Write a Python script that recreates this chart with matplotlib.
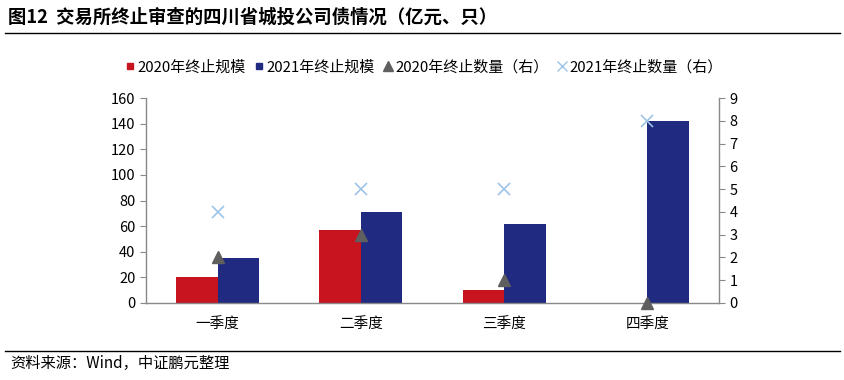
import numpy as np
import matplotlib.pyplot as plt
from matplotlib.lines import Line2D

plt.rcParams['font.family'] = ['Noto Sans CJK SC', 'DejaVu Sans']

quarters = ['一季度', '二季度', '三季度', '四季度']
scale_2020 = [20, 57, 10, 0]
scale_2021 = [35, 71, 62, 142]
count_2020 = [2, 3, 1, 0]
count_2021 = [4, 5, 5, 8]

red = '#C8141E'
navy = '#1F2A80'
gray = '#5F5F5F'
lightblue = '#9DC3E6'
axcol = '#898989'

fig = plt.figure(figsize=(8.45, 3.8), dpi=100)
ax = fig.add_axes([146 / 845, 1 - 303 / 380, (719 - 146) / 845, (303 - 98) / 380])
ax2 = ax.twinx()

x = np.arange(len(quarters))
w = 0.29
ax.bar(x - w / 2, scale_2020, w, color=red, label='2020年终止规模')
ax.bar(x + w / 2, scale_2021, w, color=navy, label='2021年终止规模')
ax.set_xlim(-0.5, 3.5)
ax.set_ylim(0, 160)
ax.set_yticks(range(0, 161, 20))
ax.set_xticks(x)
ax.set_xticklabels(quarters)

ax2.plot(x, count_2020, linestyle='none', marker='^', markersize=8, color=gray,
         label='2020年终止数量（右）', clip_on=False, zorder=5)
ax2.plot(x, count_2021, linestyle='none', marker='x', markersize=8, color=lightblue,
         markeredgewidth=1.2, label='2021年终止数量（右）', clip_on=False, zorder=5)
ax2.set_ylim(0, 9)
ax2.set_yticks(range(0, 10))

for a in (ax, ax2):
    a.spines['top'].set_visible(False)
    for s in ('left', 'right', 'bottom'):
        a.spines[s].set_color(axcol)
        a.spines[s].set_linewidth(1)
    a.tick_params(axis='y', colors=axcol, labelcolor='black', labelsize=10.5, length=4)
    a.tick_params(axis='x', length=0, labelsize=10.5, pad=11)
ax.spines['right'].set_visible(False)
ax2.spines['left'].set_visible(False)
ax2.spines['bottom'].set_visible(False)

handles = [
    Line2D([], [], linestyle='none', marker='s', markersize=5, color=red),
    Line2D([], [], linestyle='none', marker='s', markersize=5, color=navy),
    Line2D([], [], linestyle='none', marker='^', markersize=7, color=gray),
    Line2D([], [], linestyle='none', marker='x', markersize=7, color=lightblue),
]
labels = ['2020年终止规模', '2021年终止规模', '2020年终止数量（右）', '2021年终止数量（右）']
fig.legend(handles, labels, loc='center', bbox_to_anchor=(424 / 845, 1 - 67 / 380), ncol=4,
           frameon=False, fontsize=10.8, handlelength=0.6, handletextpad=0.2,
           columnspacing=0.6)

fig.text(8 / 845, 1 - 17 / 380, '图12  交易所终止审查的四川省城投公司债情况（亿元、只）',
         fontsize=13.2, fontweight='bold', va='center', ha='left')
fig.add_artist(Line2D([5 / 845, 840 / 845], [1 - 33 / 380] * 2, color='black', lw=1))
fig.add_artist(Line2D([5 / 845, 840 / 845], [1 - 351 / 380] * 2, color='black', lw=1))
fig.text(10 / 845, 1 - 363 / 380, '资料来源：Wind，中证鹏元整理', fontsize=11,
         va='center', ha='left')

fig.savefig('out.png', dpi=100)
